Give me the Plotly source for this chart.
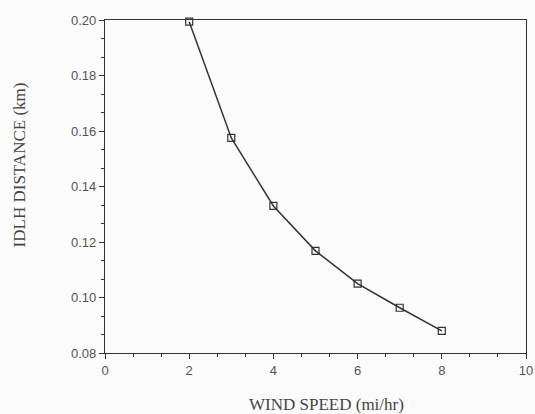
import plotly.graph_objects as go

wind_speed = [2, 3, 4, 5, 6, 7, 8]
idlh_distance = [0.1994, 0.1575, 0.1330, 0.1168, 0.1050, 0.0963, 0.0880]

x_title = "WIND SPEED (mi/hr)"
y_title = "IDLH DISTANCE (km)"

fig = go.Figure()
fig.add_trace(go.Scatter(
    x=wind_speed, y=idlh_distance, mode="lines+markers",
    line=dict(color="#333333", width=1.5),
    marker=dict(symbol="square-open", size=7, color="#333333", line=dict(width=1.2)),
    cliponaxis=False, showlegend=False,
))

axis_common = dict(
    showgrid=False, zeroline=False, showline=True, linecolor="#333333", linewidth=1.3,
    mirror=True, ticks="outside", ticklen=5, tickwidth=1.2, tickcolor="#333333",
    automargin=False,
    tickfont=dict(family="Liberation Sans, Arial, sans-serif", size=13, color="#555555"),
)

fig.update_xaxes(
    range=[0, 10], tick0=0, dtick=2,
    minor=dict(dtick=2/3, tick0=0, ticks="outside", ticklen=3, tickcolor="#333333", tickwidth=1),
    **axis_common,
)
fig.update_yaxes(
    range=[0.08, 0.20], tick0=0.08, dtick=0.02, tickformat=".2f",
    minor=dict(dtick=0.02/3, tick0=0.08, ticks="outside", ticklen=3, tickcolor="#333333", tickwidth=1),
    **axis_common,
)

title_font = dict(family="Liberation Serif, Times New Roman, serif", size=17, color="#444444")
fig.add_annotation(
    text=x_title, xref="paper", yref="paper", x=0.525, y=-0.156,
    xanchor="center", yanchor="middle", showarrow=False, font=title_font,
)
fig.add_annotation(
    text=y_title, xref="paper", yref="paper", x=-0.203, y=0.565, textangle=-90,
    xanchor="center", yanchor="middle", showarrow=False, font=title_font,
)

fig.update_layout(
    width=535, height=414,
    margin=dict(l=105, r=9, t=20, b=61),
    paper_bgcolor="#fbfbfb", plot_bgcolor="#fbfbfb",
)

fig.write_html(
    "out.html",
    config={"displayModeBar": False},
    post_script="document.body.style.margin='0';document.body.style.overflow='hidden';",
)
